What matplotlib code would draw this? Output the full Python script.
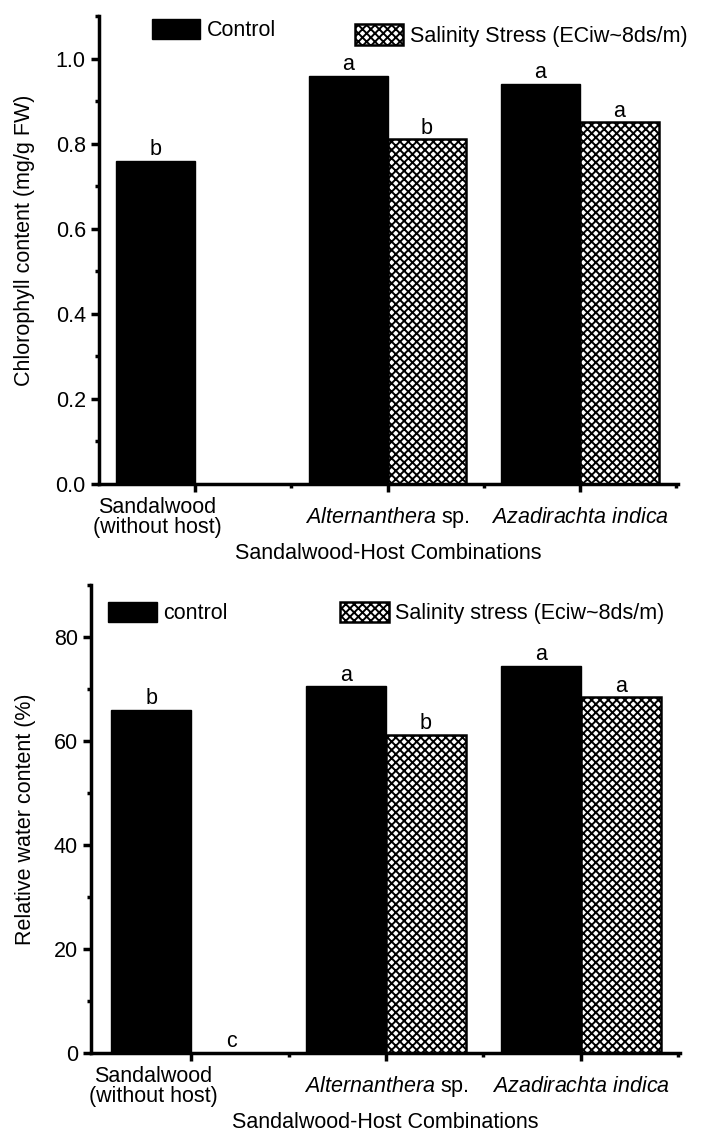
import numpy as np
import matplotlib
matplotlib.use('Agg')
import matplotlib.pyplot as plt
from matplotlib.patches import Patch
from matplotlib.ticker import MultipleLocator, FixedLocator
import matplotlib.transforms as mtransforms

# Шрифты и общий стиль
plt.rcParams['font.family'] = ['Liberation Sans', 'DejaVu Sans']
plt.rcParams['mathtext.fontset'] = 'custom'
plt.rcParams['mathtext.rm'] = 'Liberation Sans'
plt.rcParams['mathtext.it'] = 'Liberation Sans:italic'
plt.rcParams['hatch.linewidth'] = 1.4
FS = 15.5

# Данные
groups = ['Sandalwood\n(without host)', r'$\it{Alternanthera}$ sp.', r'$\it{Azadirachta\ indica}$']
xlabel = 'Sandalwood-Host Combinations'

chl_control = [0.76, 0.96, 0.94]
chl_salinity = [np.nan, 0.81, 0.85]
chl_control_letters = ['b', 'a', 'a']
chl_salinity_letters = ['', 'b', 'a']

rwc_control = [66.0, 70.5, 74.5]
rwc_salinity = [0.0, 61.2, 68.4]
rwc_control_letters = ['b', 'a', 'a']
rwc_salinity_letters = ['c', 'b', 'a']

x = np.arange(len(groups))
W = 0.41
HATCH = 'xxxx'

fig = plt.figure(figsize=(7.03, 11.38), dpi=100)
ax1 = fig.add_axes([99 / 703, (1138 - 484) / 1138, (678 - 99) / 703, 468 / 1138])
ax2 = fig.add_axes([91 / 703, (1138 - 1053) / 1138, (680 - 91) / 703, 468 / 1138])


def draw_panel(ax, control, salinity, c_letters, s_letters, ymax, ymajor, yfmt,
               ylabel, ylab_pos, leg_c, leg_s, xmin):
    bc = ax.bar(x - W / 2, control, W, color='black', edgecolor='black', linewidth=1)
    ax.bar(x + W / 2, salinity, W, color='white', edgecolor='black',
           hatch=HATCH, linewidth=1.8)
    # буквы над столбцами
    for xi, h, t in zip(x - W / 2, control, c_letters):
        ax.annotate(t, (xi, h), xytext=(0, 0.5), textcoords='offset points',
                    ha='center', va='bottom', fontsize=FS)
    for xi, h, t in zip(x + W / 2, salinity, s_letters):
        if t:
            ax.annotate(t, (xi, h), xytext=(0, 0.5), textcoords='offset points',
                        ha='center', va='bottom', fontsize=FS)

    ax.set_xlim(xmin, 2.51)
    ax.set_ylim(0, ymax)
    for s in ['top', 'right']:
        ax.spines[s].set_visible(False)
    for s in ['left', 'bottom']:
        ax.spines[s].set_linewidth(2.5)

    ax.yaxis.set_major_locator(MultipleLocator(ymajor))
    ax.yaxis.set_minor_locator(MultipleLocator(ymajor / 2))
    ax.yaxis.set_major_formatter(yfmt)
    ax.xaxis.set_major_locator(FixedLocator(x))
    ax.xaxis.set_minor_locator(FixedLocator([0.5, 1.5, 2.5]))
    ax.set_xticklabels(groups)
    ax.tick_params(which='major', direction='out', length=6, width=2.5, labelsize=FS)
    ax.tick_params(which='minor', direction='out', length=3, width=2.5)
    ax.tick_params(axis='x', which='major', pad=18)
    for lab in ax.get_xticklabels():
        lab.set_verticalalignment('center')
        lab.set_linespacing(0.95)
    # первая подпись сдвинута влево, как в оригинале
    first = ax.get_xticklabels()[0]
    first.set_transform(first.get_transform() +
                        mtransforms.ScaledTranslation(-0.38, 0, fig.dpi_scale_trans))

    ax.set_xlabel(xlabel, fontsize=FS)
    ax.xaxis.set_label_coords(0.5, -(543 - 484) / 468)
    ax.set_ylabel(ylabel, fontsize=FS, va='center')
    ax.yaxis.set_label_coords(*ylab_pos)

    kw = dict(frameon=False, fontsize=FS, handlelength=2.25, handleheight=1.1,
              handletextpad=0.3, borderpad=0, borderaxespad=0, loc='center left')
    l1 = ax.legend([bc], [leg_c[0]], bbox_to_anchor=leg_c[1], **kw)
    ax.add_artist(l1)
    sal_handle = Patch(facecolor='white', edgecolor='black', hatch=HATCH, linewidth=1.8)
    ax.legend([sal_handle], [leg_s[0]], bbox_to_anchor=leg_s[1], **kw)


draw_panel(ax1, chl_control, chl_salinity, chl_control_letters, chl_salinity_letters,
           1.1, 0.2, '{x:.1f}', 'Chlorophyll content (mg/g FW)', (-0.128, 0.52),
           ('Control', (0.0915, 0.970)),
           ('Salinity Stress (ECiw~8ds/m)', (0.442, 0.958)), -0.5)

draw_panel(ax2, rwc_control, rwc_salinity, rwc_control_letters, rwc_salinity_letters,
           90, 20, '{x:.0f}', 'Relative water content (%)', (-0.112, 0.5),
           ('control', (0.029, 0.940)),
           ('Salinity stress (Eciw~8ds/m)', (0.423, 0.940)), -0.515)

fig.savefig('out.png', dpi=100)
